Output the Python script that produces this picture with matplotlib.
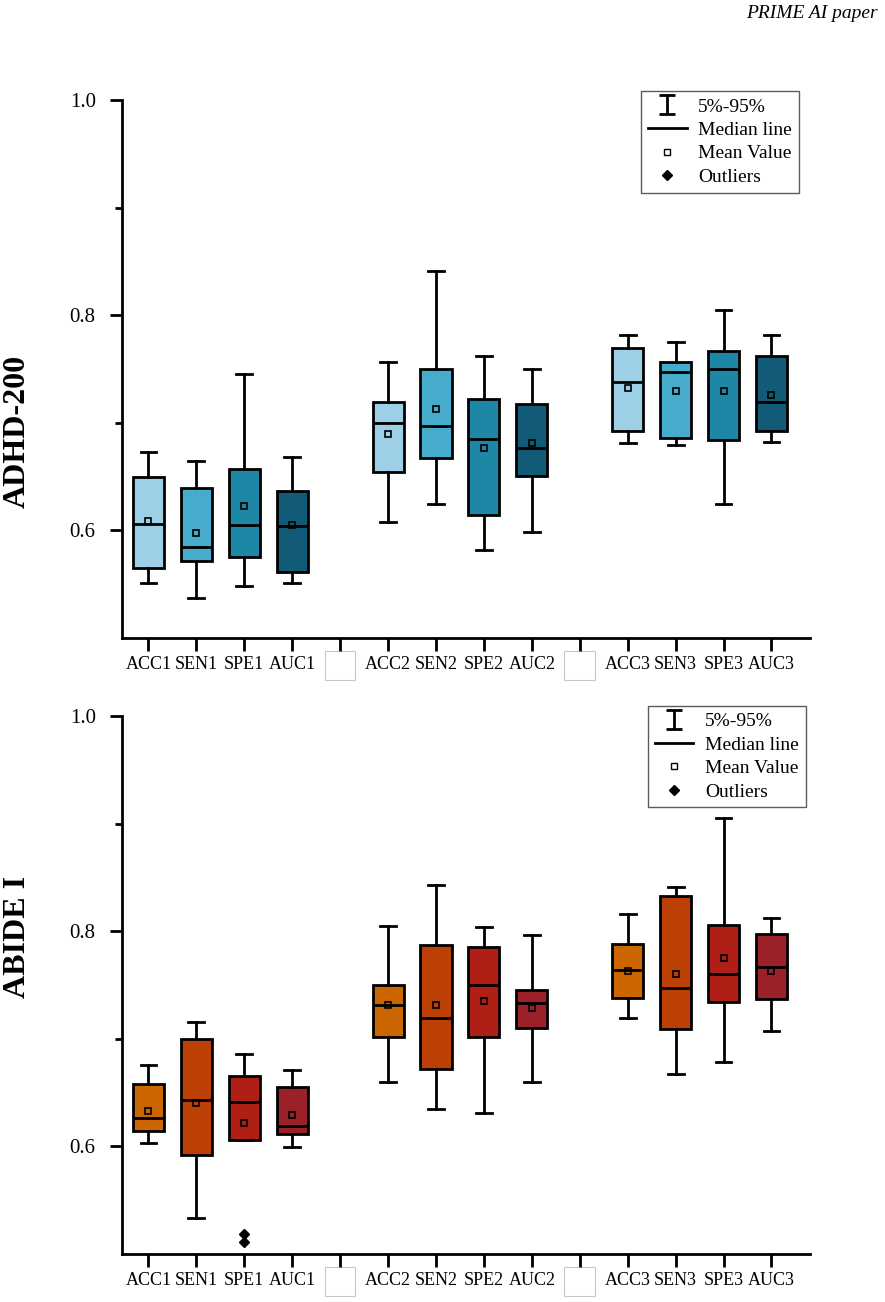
import matplotlib
matplotlib.use('Agg')
from matplotlib import pyplot as plt
from matplotlib.lines import Line2D
from matplotlib.patches import Rectangle
from matplotlib.transforms import blended_transform_factory

plt.rcParams['font.family'] = ['Liberation Serif', 'DejaVu Serif']

# tick labels, blank slots at positions 5 and 10
labels = ['ACC1', 'SEN1', 'SPE1', 'AUC1', '', 'ACC2', 'SEN2', 'SPE2', 'AUC2',
          '', 'ACC3', 'SEN3', 'SPE3', 'AUC3']
positions = [1, 2, 3, 4, 6, 7, 8, 9, 11, 12, 13, 14]

# ADHD-200 values (per box, order ACC1..AUC3)
adhd_lo = [0.551, 0.537, 0.548, 0.551, 0.608, 0.625, 0.582, 0.599, 0.681, 0.679, 0.625, 0.682]
adhd_q1 = [0.565, 0.572, 0.575, 0.561, 0.654, 0.667, 0.614, 0.651, 0.692, 0.686, 0.684, 0.692]
adhd_med = [0.606, 0.585, 0.605, 0.604, 0.700, 0.697, 0.685, 0.677, 0.738, 0.747, 0.750, 0.719]
adhd_q3 = [0.650, 0.639, 0.657, 0.637, 0.719, 0.750, 0.722, 0.718, 0.770, 0.757, 0.767, 0.762]
adhd_hi = [0.673, 0.665, 0.745, 0.668, 0.757, 0.841, 0.762, 0.750, 0.782, 0.775, 0.805, 0.782]
adhd_mean = [0.609, 0.598, 0.623, 0.605, 0.690, 0.713, 0.677, 0.681, 0.732, 0.730, 0.730, 0.726]
adhd_out = [[], [], [], [], [], [], [], [], [], [], [], []]

# ABIDE I values
abide_lo = [0.603, 0.533, 0.606, 0.599, 0.660, 0.635, 0.631, 0.660, 0.719, 0.667, 0.678, 0.707]
abide_q1 = [0.614, 0.592, 0.606, 0.611, 0.702, 0.672, 0.702, 0.710, 0.738, 0.709, 0.734, 0.737]
abide_med = [0.626, 0.643, 0.641, 0.619, 0.731, 0.719, 0.750, 0.733, 0.764, 0.747, 0.760, 0.767]
abide_q3 = [0.658, 0.700, 0.665, 0.655, 0.750, 0.787, 0.785, 0.745, 0.788, 0.833, 0.806, 0.797]
abide_hi = [0.676, 0.716, 0.686, 0.671, 0.805, 0.843, 0.804, 0.796, 0.816, 0.841, 0.905, 0.812]
abide_mean = [0.633, 0.640, 0.622, 0.629, 0.731, 0.731, 0.735, 0.729, 0.763, 0.760, 0.775, 0.763]
abide_out = [[], [], [0.518, 0.511], [], [], [], [], [], [], [], [], []]

blues = ['#9dd0e7', '#47abcb', '#1c88a6', '#115b76']
reds = ['#cc6600', '#bc4004', '#b01f15', '#9b2129']


def panel(ax, lo, q1, med, q3, hi, mean, out, colors, ylabel, label_y, leg_anchor):
    stats = []
    for i in range(len(positions)):
        stats.append(dict(whislo=lo[i], q1=q1[i], med=med[i], q3=q3[i],
                          whishi=hi[i], mean=mean[i], fliers=out[i]))
    bp = ax.bxp(stats, positions=positions, widths=0.65, patch_artist=True,
                showmeans=True, showfliers=True,
                boxprops=dict(edgecolor='black', linewidth=2),
                medianprops=dict(color='black', linewidth=2),
                whiskerprops=dict(color='black', linewidth=2),
                capprops=dict(color='black', linewidth=2),
                capwidths=0.33,
                meanprops=dict(marker='s', markerfacecolor='none',
                               markeredgecolor='black', markersize=5,
                               markeredgewidth=1.2),
                flierprops=dict(marker='D', markerfacecolor='black',
                                markeredgecolor='black', markersize=5))
    for i, box in enumerate(bp['boxes']):
        box.set_facecolor(colors[i % 4])

    ax.set_xlim(0.45, 14.8)
    ax.set_ylim(0.5, 1.0)
    ax.set_xticks(range(1, 15))
    ax.set_xticklabels(labels, fontsize=13)
    ax.set_yticks([0.6, 0.8, 1.0])
    ax.set_yticklabels(['0.6', '0.8', '1.0'], fontsize=15)
    ax.set_yticks([0.7, 0.9], minor=True)
    ax.tick_params(axis='both', which='major', direction='out', length=9, width=2)
    ax.tick_params(axis='y', which='minor', direction='out', length=5, width=2)
    ax.tick_params(axis='x', pad=4)
    ax.tick_params(axis='y', pad=10)
    for s in ['top', 'right']:
        ax.spines[s].set_visible(False)
    for s in ['left', 'bottom']:
        ax.spines[s].set_linewidth(2)
    ax.set_ylabel(ylabel, fontsize=23, fontweight='bold')
    ax.yaxis.set_label_coords(-0.131, label_y)

    # empty boxes standing in for the blank tick labels
    trans = blended_transform_factory(ax.transData, ax.transAxes)
    for p in [5, 10]:
        ax.add_patch(Rectangle((p - 0.32, -0.078), 0.64, 0.054, transform=trans,
                               facecolor='white', edgecolor='#c8c8c8',
                               linewidth=0.8, clip_on=False))

    # off-screen errorbar used only as the 5%-95% legend handle
    eb = ax.errorbar([-5], [0.7], yerr=[0.05], fmt='none', ecolor='black',
                     elinewidth=2, capsize=6, capthick=2)
    handles = [eb,
               Line2D([], [], color='black', linewidth=2),
               Line2D([], [], linestyle='none', marker='s', markerfacecolor='none',
                      markeredgecolor='black', markersize=5),
               Line2D([], [], linestyle='none', marker='D', color='black',
                      markersize=5)]
    leg = ax.legend(handles, ['5%-95%', 'Median line', 'Mean Value', 'Outliers'],
                    loc='upper right', bbox_to_anchor=leg_anchor, fontsize=14,
                    frameon=True, fancybox=False, handlelength=2.0,
                    handletextpad=0.6, labelspacing=0.3, borderpad=0.35,
                    borderaxespad=0)
    leg.get_frame().set_edgecolor('#333333')
    leg.get_frame().set_linewidth(1)


fig = plt.figure(figsize=(8.85, 13.02), dpi=100)
ax1 = fig.add_axes([0.138, 0.51, 0.777, 0.413])
ax2 = fig.add_axes([0.138, 0.037, 0.777, 0.413])

panel(ax1, adhd_lo, adhd_q1, adhd_med, adhd_q3, adhd_hi, adhd_mean, adhd_out,
      blues, 'ADHD-200', 0.385, (0.984, 1.017))
panel(ax2, abide_lo, abide_q1, abide_med, abide_q3, abide_hi, abide_mean, abide_out,
      reds, 'ABIDE I', 0.589, (0.994, 1.019))

fig.text(0.992, 0.996, 'PRIME AI paper', ha='right', va='top', fontsize=14,
         style='italic')

fig.savefig('out.png', dpi=100)
